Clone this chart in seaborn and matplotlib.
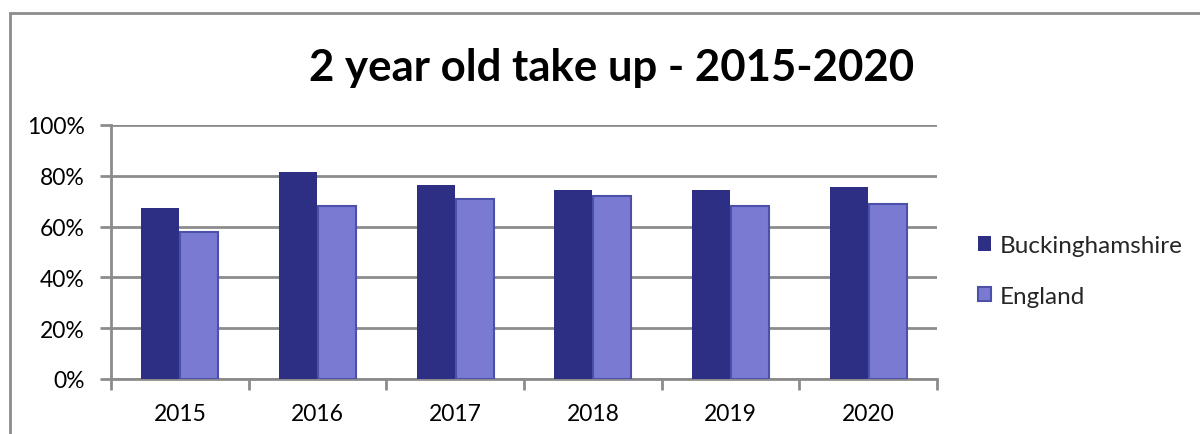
import matplotlib
matplotlib.use("Agg")
import matplotlib.pyplot as plt
from matplotlib.patches import Rectangle, Patch
from matplotlib.ticker import FixedLocator, FuncFormatter
import pandas as pd
import seaborn as sns

# Data: share of eligible 2 year olds taking up funded places (%)
years = ["2015", "2016", "2017", "2018", "2019", "2020"]
buckinghamshire = [67.5, 81.5, 76.5, 74.5, 74.5, 75.5]
england = [58.0, 68.0, 71.0, 72.0, 68.0, 69.0]
series_names = ["Buckinghamshire", "England"]
title = "2 year old take up - 2015-2020"
y_ticks = [0, 20, 40, 60, 80, 100]

df = pd.DataFrame({
    "year": years * 2,
    "value": buckinghamshire + england,
    "series": [series_names[0]] * len(years) + [series_names[1]] * len(years),
})

sns.set_theme(style="white")
plt.rcParams["font.family"] = ["Lato", "DejaVu Sans"]

dark = "#2d2f85"
light = "#7a7ad3"
light_edge = "#4b50a8"
grid_grey = "#8c8c8c"

fig = plt.figure(figsize=(12, 4.35), dpi=100)

# Chart frame (extends past the right and bottom edges)
fig.patches.append(Rectangle((10 / 1200, -0.1), 1.2, 1 - 14 / 435 + 0.1,
                             transform=fig.transFigure, fill=False,
                             edgecolor=grid_grey, linewidth=2, zorder=0))

ax = fig.add_axes([111 / 1200, 1 - 380 / 435, (937 - 111) / 1200, (380 - 126) / 435])

sns.barplot(data=df, x="year", y="value", hue="series",
            palette=[dark, light], width=0.57, gap=0.03,
            saturation=1, ax=ax, legend=False, zorder=3)

# Outline the England bars
for patch in ax.containers[1]:
    patch.set_edgecolor(light_edge)
    patch.set_linewidth(1.5)
for patch in ax.containers[0]:
    patch.set_edgecolor("none")

ax.set_xlim(-0.5, len(years) - 0.5)
ax.set_ylim(0, 100)
ax.yaxis.set_major_locator(FixedLocator(y_ticks))
ax.yaxis.set_major_formatter(FuncFormatter(lambda v, p: f"{int(v)}%"))
ax.grid(axis="y", color=grid_grey, linewidth=2, zorder=0)
ax.set_axisbelow(True)
ax.set_xlabel("")
ax.set_ylabel("")

for side in ["top", "right"]:
    ax.spines[side].set_visible(False)
for side in ["left", "bottom"]:
    ax.spines[side].set_color(grid_grey)
    ax.spines[side].set_linewidth(2)

ax.tick_params(axis="y", which="major", length=8, width=2, color=grid_grey,
               labelsize=16.5, labelcolor="black", pad=11, left=True)
ax.tick_params(axis="x", which="major", length=0, labelsize=16.5,
               labelcolor="black", pad=17)
ax.xaxis.set_minor_locator(FixedLocator([i - 0.5 for i in range(len(years) + 1)]))
ax.tick_params(axis="x", which="minor", length=8, width=2, color=grid_grey, bottom=True)

fig.text(612 / 1200, 1 - 68 / 435, title, ha="center", va="center",
         fontsize=31.5, fontweight="bold", color="black")

handles = [Patch(facecolor=dark, edgecolor="none"),
           Patch(facecolor=light, edgecolor=light_edge, linewidth=1.5)]
fig.legend(handles, series_names, loc="center left",
           bbox_to_anchor=(978 / 1200, 1 - 272 / 435), frameon=False,
           fontsize=17.5, handlelength=0.55, handleheight=0.55,
           handletextpad=0.35, labelspacing=1.2, borderpad=0,
           borderaxespad=0)

fig.savefig("out.png", dpi=100, facecolor="white")
